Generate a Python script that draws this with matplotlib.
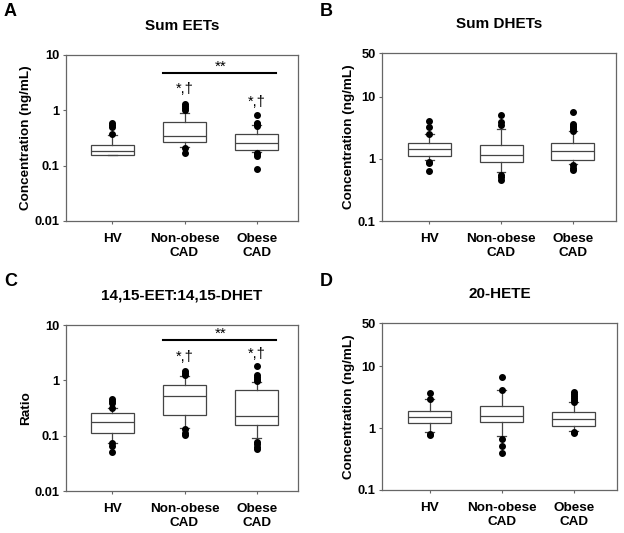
import matplotlib
matplotlib.use("Agg")
import matplotlib.pyplot as plt

plt.rcParams['font.family'] = ['Liberation Sans', 'DejaVu Sans']

groups = ['HV', 'Non-obese\nCAD', 'Obese\nCAD']

# Panel A: Sum EETs
eet_whislo = [0.156, 0.221, 0.178]
eet_q1 = [0.156, 0.273, 0.195]
eet_med = [0.187, 0.346, 0.258]
eet_q3 = [0.241, 0.622, 0.366]
eet_whishi = [0.351, 0.895, 0.541]
eet_fliers = [[0.377, 0.51, 0.55, 0.588],
              [0.170, 0.21, 1.0, 1.12, 1.2, 1.29],
              [0.087, 0.152, 0.163, 0.172, 0.53, 0.57, 0.6, 0.834]]

# Panel B: Sum DHETs
dhet_whislo = [0.95, 0.607, 0.82]
dhet_q1 = [1.12, 0.894, 0.95]
dhet_med = [1.42, 1.15, 1.35]
dhet_q3 = [1.82, 1.67, 1.82]
dhet_whishi = [2.49, 2.96, 2.75]
dhet_fliers = [[0.646, 0.84, 0.9, 2.5, 3.19, 4.0],
               [0.46, 0.51, 0.556, 3.52, 3.85, 5.1],
               [0.65, 0.71, 0.78, 2.8, 3.0, 3.19, 3.4, 3.6, 5.74]]

# Panel C: 14,15-EET:14,15-DHET ratio
ratio_whislo = [0.0746, 0.14, 0.092]
ratio_q1 = [0.110, 0.234, 0.154]
ratio_med = [0.175, 0.519, 0.225]
ratio_q3 = [0.258, 0.834, 0.658]
ratio_whishi = [0.314, 1.18, 0.946]
ratio_fliers = [[0.051, 0.066, 0.0728, 0.32, 0.387, 0.415, 0.458],
                [0.103, 0.113, 0.13, 1.23, 1.36, 1.5],
                [0.057, 0.063, 0.0707, 0.078, 0.96, 1.06, 1.15, 1.27, 1.85]]

# Panel D: 20-HETE
hete_whislo = [0.85, 0.74, 0.89]
hete_q1 = [1.21, 1.25, 1.10]
hete_med = [1.49, 1.59, 1.40]
hete_q3 = [1.89, 2.28, 1.80]
hete_whishi = [2.92, 4.15, 2.61]
hete_fliers = [[0.77, 0.81, 2.95, 3.71],
               [0.40, 0.52, 0.66, 4.2, 6.75],
               [0.83, 0.86, 2.68, 2.9, 3.1, 3.36, 3.6, 3.9]]


def make_stats(wlo, q1, med, q3, whi, fl):
    return [dict(whislo=a, q1=b, med=c, q3=d, whishi=e, fliers=f, label=g)
            for a, b, c, d, e, f, g in zip(wlo, q1, med, q3, whi, fl, groups)]


fig = plt.figure(figsize=(6.24, 5.33), dpi=100)
W, H = 624.0, 533.0


def add_ax(l, r, t, b):
    return fig.add_axes([l / W, 1 - b / H, (r - l) / W, (b - t) / H])


panels = [
    dict(rect=(66, 298, 55, 221), stats=make_stats(eet_whislo, eet_q1, eet_med, eet_q3, eet_whishi, eet_fliers),
         ylim=(0.01, 10), ticks=[0.01, 0.1, 1, 10], tlabels=['0.01', '0.1', '1', '10'],
         title='Sum EETs', ylabel='Concentration (ng/mL)', letter='A', xlim=(0.36, 3.57),
         sig=dict(line=4.64, star=6.2, marks=[2.4, 1.42])),
    dict(rect=(382, 616, 53, 221), stats=make_stats(dhet_whislo, dhet_q1, dhet_med, dhet_q3, dhet_whishi, dhet_fliers),
         ylim=(0.1, 50), ticks=[0.1, 1, 10, 50], tlabels=['0.1', '1', '10', '50'],
         title='Sum DHETs', ylabel='Concentration (ng/mL)', letter='B', xlim=(0.34, 3.6), sig=None),
    dict(rect=(66, 298, 325, 491), stats=make_stats(ratio_whislo, ratio_q1, ratio_med, ratio_q3, ratio_whishi, ratio_fliers),
         ylim=(0.01, 10), ticks=[0.01, 0.1, 1, 10], tlabels=['0.01', '0.1', '1', '10'],
         title='14,15-EET:14,15-DHET', ylabel='Ratio', letter='C', xlim=(0.36, 3.57),
         sig=dict(line=5.34, star=7.0, marks=[2.62, 3.0])),
    dict(rect=(382, 617, 323, 490), stats=make_stats(hete_whislo, hete_q1, hete_med, hete_q3, hete_whishi, hete_fliers),
         ylim=(0.1, 50), ticks=[0.1, 1, 10, 50], tlabels=['0.1', '1', '10', '50'],
         title='20-HETE', ylabel='Concentration (ng/mL)', letter='D', xlim=(0.34, 3.6), sig=None),
]

edge = '#444444'
for p in panels:
    ax = add_ax(*p['rect'])
    ax.bxp(p['stats'], positions=[1, 2, 3], widths=0.6, capwidths=0.12,
           patch_artist=True,
           boxprops=dict(facecolor='white', edgecolor=edge, linewidth=0.9),
           medianprops=dict(color=edge, linewidth=0.9),
           whiskerprops=dict(color=edge, linewidth=0.9),
           capprops=dict(color=edge, linewidth=0.9),
           flierprops=dict(marker='o', markerfacecolor='black', markeredgecolor='black',
                           markersize=4, linestyle='none'))
    ax.set_yscale('log')
    ax.set_ylim(*p['ylim'])
    ax.set_xlim(*p['xlim'])
    ax.set_yticks(p['ticks'])
    ax.set_yticklabels(p['tlabels'])
    ax.minorticks_off()
    ax.set_xticks([1, 2, 3])
    ax.set_xticklabels(groups, linespacing=1.2)
    for s in ax.spines.values():
        s.set_color('#666666')
        s.set_linewidth(0.9)
    ax.tick_params(direction='out', length=2.5, width=0.8, color='#666666', labelsize=9.7, pad=2)
    ax.tick_params(axis='y', labelsize=9.3)
    ax.tick_params(axis='x', pad=6)
    for lab in ax.get_xticklabels() + ax.get_yticklabels():
        lab.set_fontweight('bold')
    ax.set_ylabel(p['ylabel'], fontsize=9.7, fontweight='bold', labelpad=2)
    ax.set_title(p['title'], fontsize=11, fontweight='bold', pad=18)
    l, r, t, b = p['rect']
    fig.text((4 if l < 100 else 320) / W, 1 - (12 if t < 100 else 282) / H, p['letter'],
             fontsize=13, fontweight='bold', ha='left', va='center')
    if p['sig']:
        sg = p['sig']
        ax.plot([1.7, 3.27], [sg['line'], sg['line']], color='black', linewidth=1.5)
        ax.text(2.5, sg['star'], '**', ha='center', va='center', fontsize=11)
        for x, y in zip([2, 3], sg['marks']):
            ax.text(x, y, '*,\u2020', ha='center', va='center', fontsize=10.5)

fig.savefig('out.png', dpi=100)
